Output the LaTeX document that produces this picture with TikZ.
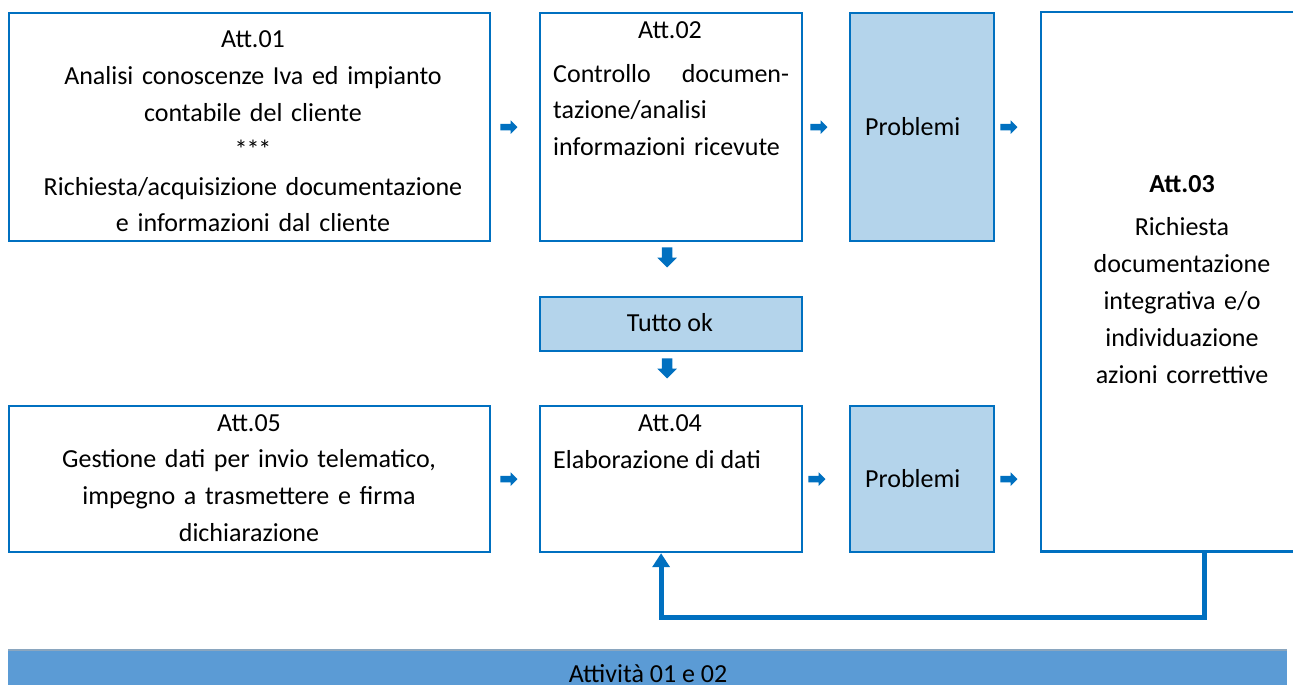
\documentclass[tikz,border=0pt]{standalone}
\usepackage{fontspec}
\setmainfont{Carlito}
\usetikzlibrary{shapes.arrows,arrows.meta,calc}
\definecolor{bordercol}{HTML}{0070C0}
\definecolor{lightfill}{HTML}{B4D4EB}
\definecolor{barfill}{HTML}{5B9BD5}
\definecolor{barline}{HTML}{8AA6BF}
\begin{document}
\begin{tikzpicture}[x=1pt,y=-1pt,
  box/.style={draw=bordercol,line width=2.2pt,inner sep=0pt,anchor=north west},
  hbox/.style={box,fill=lightfill},
  txt/.style={inner sep=0pt,anchor=base,font=\fontsize{26}{36.8}\selectfont},
  rarrow/.style={single arrow,fill=bordercol,draw=none,inner sep=0pt,text width=0pt,text height=3pt,text depth=3pt,minimum height=17pt,single arrow head extend=3.5pt,anchor=tail},
  darrow/.style={single arrow,fill=bordercol,draw=none,inner sep=0pt,text width=0pt,text height=5pt,text depth=5pt,minimum height=20pt,single arrow head extend=4.5pt,rotate=-90,anchor=tail},
  fb/.style={draw=bordercol,line width=5pt}
]
\useasboundingbox (0,0) rectangle (1293,685);
% boxes
\node[box,minimum width=481pt,minimum height=228pt] (a01) at (8,12) {};
\node[box,minimum width=262pt,minimum height=228pt] (a02) at (539,12) {};
\node[hbox,minimum width=144pt,minimum height=228pt] (p1) at (849,12) {};
\node[inner sep=0pt,anchor=north west,minimum width=256pt,minimum height=539pt] (a03) at (1041,12) {};
\draw[draw=bordercol,line width=2.2pt] (a03.north east) -- (a03.north west) -- (a03.south west) -- (a03.south east);
\node[hbox,minimum width=262pt,minimum height=54pt] (tok) at (539,296) {};
\node[box,minimum width=481pt,minimum height=146pt] (a05) at (8,405) {};
\node[box,minimum width=262pt,minimum height=146pt] (a04) at (539,405) {};
\node[hbox,minimum width=144pt,minimum height=146pt] (p2) at (849,405) {};
% texts
\node[txt,text width=470pt,align=center] (t01) at (253,48) {Att.01\\Analisi conoscenze Iva ed impianto\\contabile del cliente\\{}*\kern-1pt*\kern-1pt*\\Richiesta/acquisizione documentazione\\e informazioni dal cliente};
\node[txt,align=center] (t02a) at (670,39) {Att.02};
\node[txt,text width=240pt,align=left,anchor=base west] (t02) at (553,82) {\makebox[236pt][s]{Controllo\hfill documen-}\\tazione/analisi\\informazioni ricevute};
\node[txt,anchor=base west] (tp1) at (865,135) {Problemi};
\node[txt,text width=240pt,align=center] (t03) at (1182,192) {\textbf{Att.03}\\[7pt]Richiesta\\documentazione\\integrativa e/o\\individuazione\\azioni correttive};
\node[txt] (ttok) at (670,331) {Tutto ok};
\node[txt,text width=470pt,align=center] (t05) at (249,431) {Att.05\\Gestione dati per invio telematico,\\impegno a trasmettere e firma\\dichiarazione};
\node[txt] (t04a) at (670,431) {Att.04};
\node[txt,anchor=base west] (t04) at (553,468) {Elaborazione di dati};
\node[txt,anchor=base west] (tp2) at (865,487) {Problemi};
% block arrows
\node[rarrow] (r1) at ([xshift=9pt]a01.east) {};
\node[rarrow] (r2) at ([xshift=7pt]a02.east) {};
\node[rarrow] (r3) at ([xshift=5pt]p1.east) {};
\node[rarrow] (r4) at ([xshift=9pt]a05.east) {};
\node[rarrow] (r5) at ([xshift=5pt]a04.east) {};
\node[rarrow] (r6) at ([xshift=5pt]p2.east) {};
\node[darrow] (d1) at ([xshift=-4pt,yshift=-5pt]a02.south) {};
\node[darrow] (d2) at ([xshift=-4pt,yshift=-6pt]tok.south) {};
% feedback
\draw[fb,-{Triangle[width=17pt,length=14pt]}] ([xshift=163pt]a03.south west) -- ++(0,66) -| ([xshift=-10pt]a04.south);
% bottom bar
\node[inner sep=0pt,anchor=north west,minimum width=1279pt,minimum height=45pt,fill=barfill] (bar) at (8,650) {};
\draw[draw=barline,line width=2pt] (bar.north west) -- (bar.north east);
\node[txt] (tbar) at (648,682) {Attività 01 e 02};
\end{tikzpicture}
\end{document}
